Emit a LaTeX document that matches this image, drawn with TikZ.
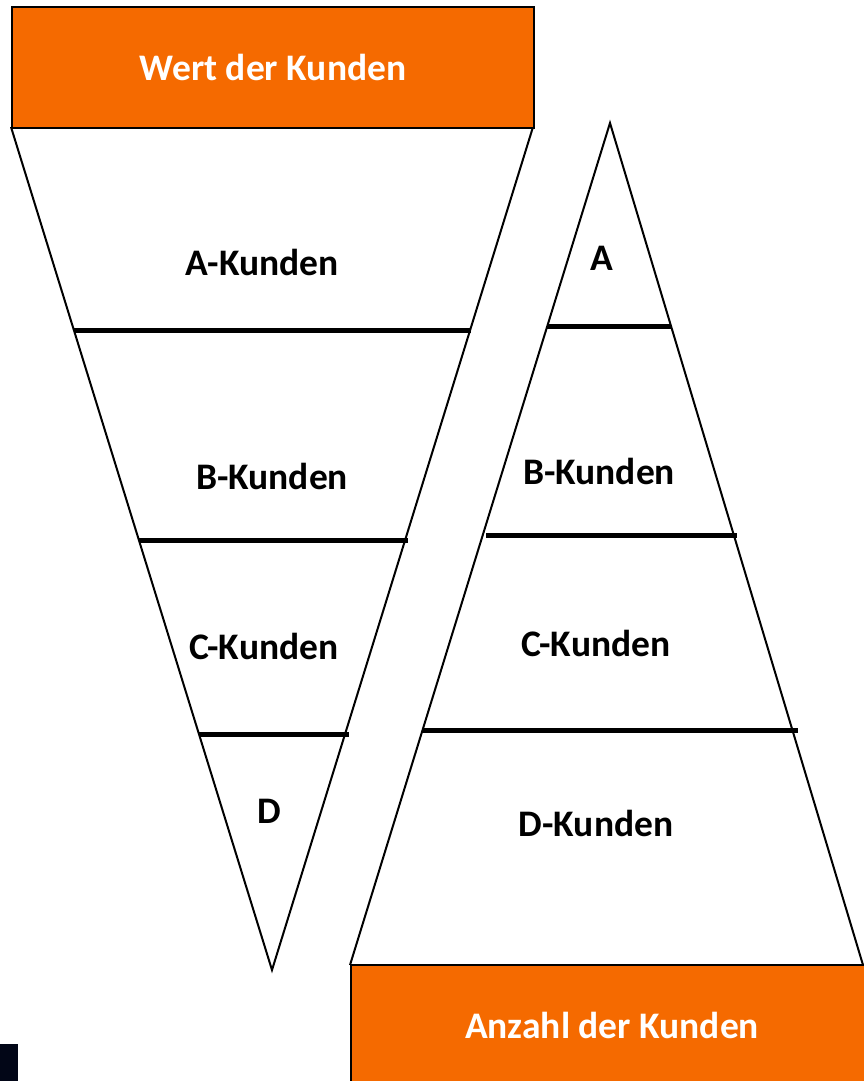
\documentclass[tikz,border=0pt]{standalone}
\usepackage{fontspec}
\setmainfont{Carlito}
\definecolor{boxorange}{HTML}{F56A00}
\definecolor{darkmark}{HTML}{020617}
\tikzset{
  headbox/.style={draw=black, line width=2pt, fill=boxorange, text=white, font=\fontsize{37.5}{42}\selectfont\bfseries},
  lbl/.style={font=\fontsize{37.5}{42}\selectfont\bfseries, text=black},
  outline/.style={draw=black, line width=2pt, line join=miter},
  divider/.style={draw=black, line width=5pt}
}
\begin{document}
\begin{tikzpicture}[x=1pt,y=-1pt]
\useasboundingbox (0,0) rectangle (863,1081);
% inverted triangle
\draw[outline] (11,127) -- (272,970) -- (533,127);
\draw[divider] (74,330) -- (471,330);
\draw[divider] (139,540) -- (408,540);
\draw[divider] (199,734) -- (349,734);
% upright triangle
\draw[outline] (350,965) -- (610,123) -- (863,965);
\draw[divider] (547,326) -- (671,326);
\draw[divider] (486,535) -- (737,535);
\draw[divider] (423,730) -- (798,730);
% boxes
\node[headbox, minimum width=522pt, minimum height=121pt, anchor=north west, inner sep=0pt] (wert) at (11,6) {Wert der Kunden};
\path[fill=boxorange, draw=black, line width=2pt] (351,1090) -- (351,965) -- (870,965) -- (870,1090);
\node[lbl, text=white] (anzahl) at (612,1025) {Anzahl der Kunden};
% labels
\node[lbl] (la) at (262,262) {A-Kunden};
\node[lbl] (lb) at (272,476) {B-Kunden};
\node[lbl] (lc) at (264,646) {C-Kunden};
\node[lbl] (ld) at (269,811) {D};
\node[lbl] (ra) at (602,258) {A};
\node[lbl] (rb) at (599,471) {B-Kunden};
\node[lbl] (rc) at (596,643) {C-Kunden};
\node[lbl] (rd) at (596,823) {D-Kunden};
% dark mark
\fill[darkmark] (0,1044) rectangle (18,1081);
\end{tikzpicture}
\end{document}
